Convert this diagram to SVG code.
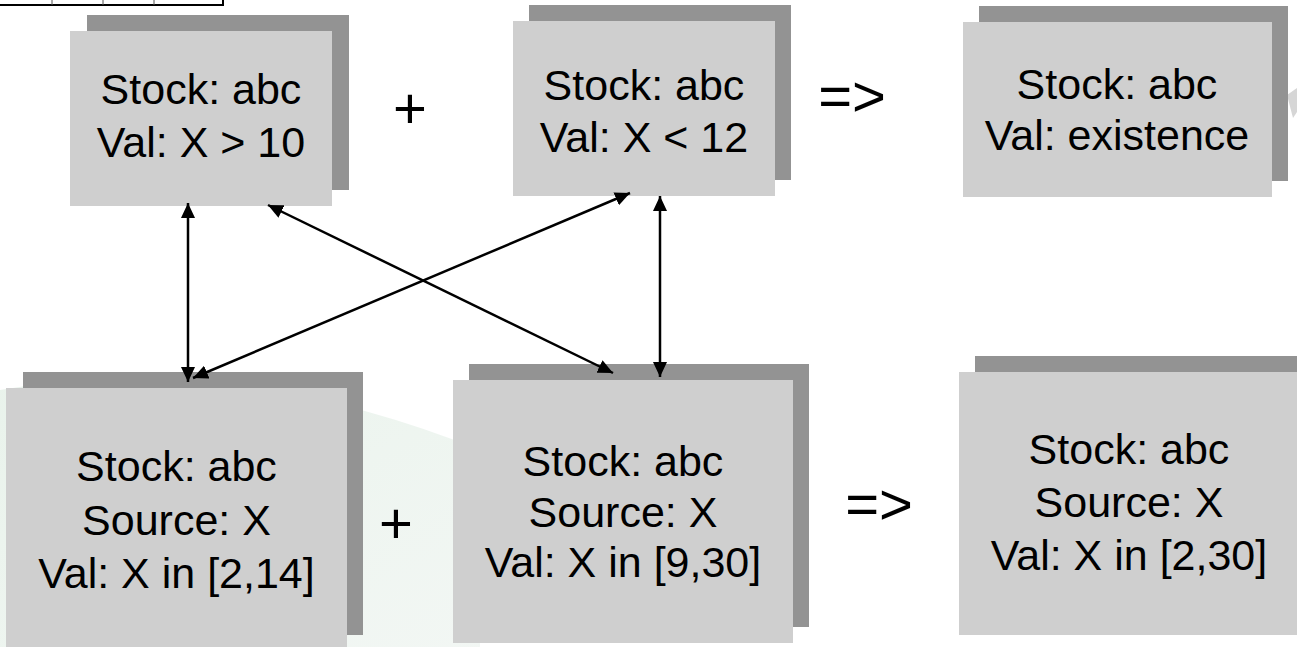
<svg xmlns="http://www.w3.org/2000/svg" width="1297" height="647" viewBox="0 0 1297 647">
  <style>
    .shadow { fill: #939393; }
    .front { fill: #cfcfcf; }
    .label { font-family: "Liberation Sans", Arial, sans-serif; font-size: 43px; fill: #000; text-anchor: middle; }
    .sym { font-family: "Liberation Sans", Arial, sans-serif; font-size: 58px; fill: #000; }
    .conn { stroke: #000; stroke-width: 2.5; fill: none; marker-start: url(#ah); marker-end: url(#ah); }
  </style>
  <defs>
    <marker id="ah" viewBox="0 0 15 14" refX="15" refY="7" markerWidth="15" markerHeight="14" markerUnits="userSpaceOnUse" orient="auto-start-reverse">
      <path d="M0,0 L15,7 L0,14 Z" fill="#000"/>
    </marker>
    <linearGradient id="wm" x1="0" y1="0" x2="1" y2="1">
      <stop offset="0" stop-color="#e2efe5"/>
      <stop offset="1" stop-color="#eef4f0"/>
    </linearGradient>
  </defs>
  <rect width="1297" height="647" fill="#ffffff"/>

  <!-- faint background watermark -->
  <g id="watermark">
    <path d="M0,390 Q 230,350 480,450 L 480,647 L 0,647 Z" fill="url(#wm)" opacity="0.75"/>
    <path d="M1287,95 L1297,88 L1297,112 L1293,118 Z" fill="#d6d6d6"/>
  </g>

  <!-- top-left frame fragment -->
  <g id="frame">
    <rect x="-3" y="-3" width="226" height="8" fill="none" stroke="#000" stroke-width="2"/>
    <line x1="52" y1="0" x2="52" y2="5" stroke="#555" stroke-width="1"/>
    <line x1="103" y1="0" x2="103" y2="5" stroke="#555" stroke-width="1"/>
    <line x1="154" y1="0" x2="154" y2="5" stroke="#555" stroke-width="1"/>
  </g>

  <g id="node-top1">
    <rect class="shadow" x="87" y="15" width="262" height="175"/>
    <rect class="front" x="70" y="31" width="262" height="175"/>
    <text class="label" x="201" y="104">Stock: abc</text>
    <text class="label" x="201" y="157">Val: X &gt; 10</text>
  </g>

  <g id="node-top2">
    <rect class="shadow" x="529" y="5" width="262" height="175"/>
    <rect class="front" x="513" y="21" width="262" height="175"/>
    <text class="label" x="644" y="100">Stock: abc</text>
    <text class="label" x="644" y="152">Val: X &lt; 12</text>
  </g>

  <g id="node-top3">
    <rect class="shadow" x="979" y="6" width="309" height="175"/>
    <rect class="front" x="963" y="22" width="309" height="175"/>
    <text class="label" x="1117" y="99">Stock: abc</text>
    <text class="label" x="1117" y="150">Val: existence</text>
  </g>

  <g id="node-bot1">
    <rect class="shadow" x="23" y="372" width="340" height="263"/>
    <rect class="front" x="6" y="388" width="341" height="263"/>
    <text class="label" x="176.5" y="481">Stock: abc</text>
    <text class="label" x="176.5" y="535">Source: X</text>
    <text class="label" x="176.5" y="588">Val: X in [2,14]</text>
  </g>

  <g id="node-bot2">
    <rect class="shadow" x="469" y="364" width="340" height="263"/>
    <rect class="front" x="453" y="380" width="340" height="263"/>
    <text class="label" x="623" y="476">Stock: abc</text>
    <text class="label" x="623" y="527">Source: X</text>
    <text class="label" x="623" y="577">Val: X in [9,30]</text>
  </g>

  <g id="node-bot3">
    <rect class="shadow" x="975" y="356" width="340" height="263"/>
    <rect class="front" x="959" y="372" width="340" height="263"/>
    <text class="label" x="1129" y="464">Stock: abc</text>
    <text class="label" x="1129" y="517">Source: X</text>
    <text class="label" x="1129" y="570">Val: X in [2,30]</text>
  </g>

  <g id="operators">
    <text class="sym" x="410" y="128" text-anchor="middle">+</text>
    <text class="sym" x="852" y="116" text-anchor="middle">=&gt;</text>
    <text class="sym" x="396" y="543" text-anchor="middle">+</text>
    <text class="sym" x="879" y="524" text-anchor="middle">=&gt;</text>
  </g>

  <g id="connectors">
    <line class="conn" x1="188" y1="203" x2="188" y2="382"/>
    <line class="conn" x1="660" y1="196" x2="660" y2="377"/>
    <line class="conn" x1="268" y1="205" x2="613" y2="373"/>
    <line class="conn" x1="630" y1="193" x2="193" y2="378"/>
  </g>
</svg>
